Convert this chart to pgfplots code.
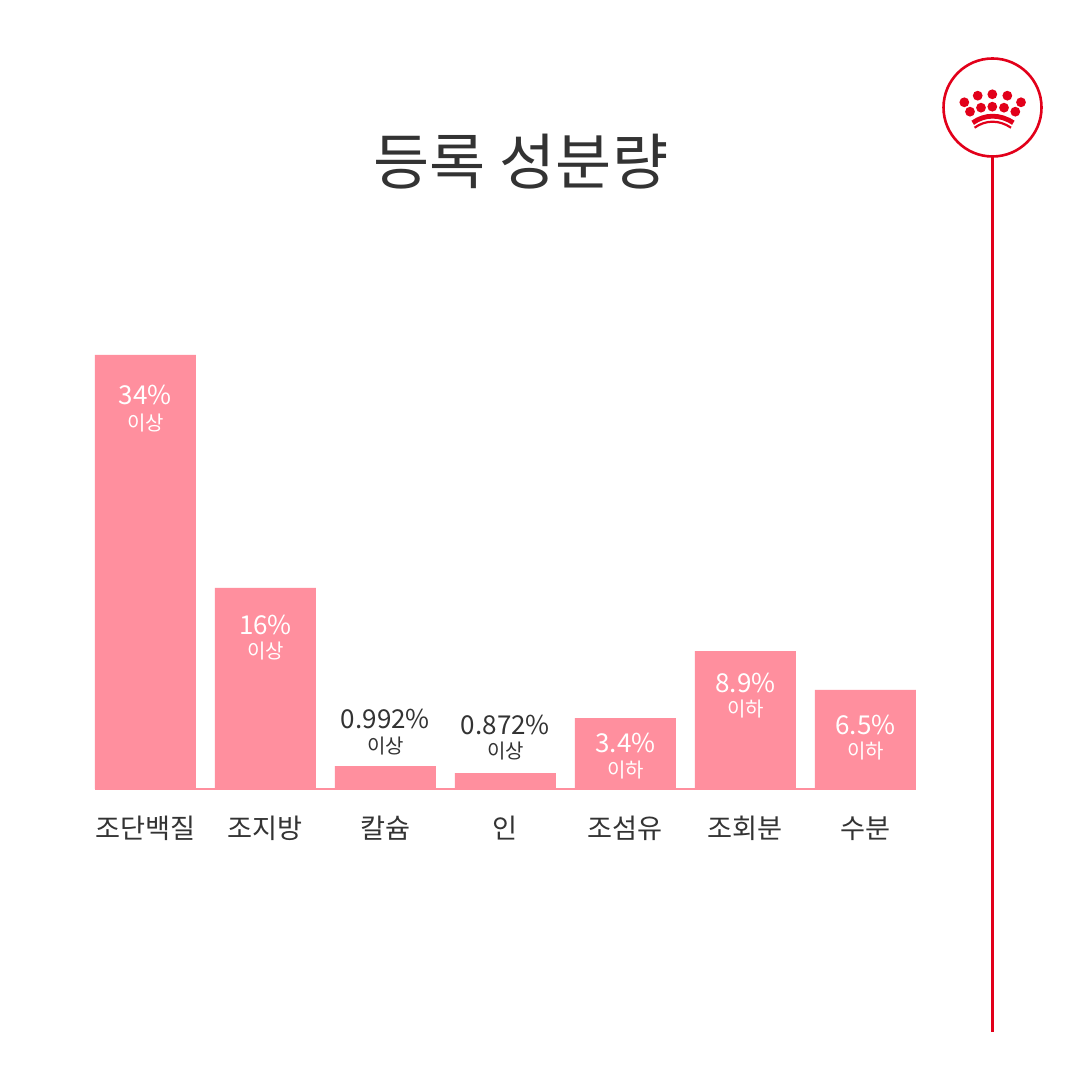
\documentclass[border=0pt]{standalone}
\usepackage{pgfplots}
\pgfplotsset{compat=1.18}
\usepackage{fontspec}
\setmainfont{Noto Sans CJK KR}
\definecolor{barpink}{RGB}{255,143,158}
\definecolor{rcred}{RGB}{226,0,26}
\definecolor{txt}{RGB}{51,51,51}
\begin{document}
\begin{tikzpicture}[x=0.5pt,y=0.5pt]
\fill[white] (0,0) rectangle (1080,1080);
% title
\node[txt, font=\fontsize{30.5}{32}\selectfont, inner sep=0pt] at (521,918.5) {등록 성분량};
% red line and logo
\draw[rcred, line width=1.5pt] (992.5,923) -- (992.5,48);
\fill[white] (992.5,972.5) circle (49);
\draw[rcred, line width=1.3pt] (992.5,972.5) circle (49);
\foreach \px/\py in {977.7/984.3, 992.3/985.7, 1007.3/984.3, 964.3/977.7, 1021/977.7, 970/968.3, 981/972.3, 992.3/973.3, 1004/972.3, 1015.3/968.3}
  \fill[rcred] (\px,\py) circle (4.9);
\draw[rcred, line width=2.4pt] (972.7,957.2) .. controls (985,966) and (1000,966) .. (1013.3,957.2);
\draw[rcred, line width=1.1pt] (974.5,952.3) .. controls (986,960.3) and (999,960.3) .. (1011,952.3);
\begin{axis}[
  at={(47.5pt,145.5pt)}, anchor=south west,
  scale only axis, width=410.4pt, height=255.3pt,
  xmin=-0.42, xmax=6.42, ymin=0, ymax=40,
  axis x line=bottom, axis y line=none,
  x axis line style={barpink, line width=1pt, -},
  xtick={0,1,2,3,4,5,6},
  xticklabels={조단백질,조지방,칼슘,인,조섬유,조회분,수분},
  major tick length=0pt,
  xticklabel style={txt, font=\fontsize{13.6}{15}\selectfont, anchor=center, yshift=-19.75pt},
  ybar, bar width=50.5pt, bar shift=0pt,
  clip=false,
]
\addplot[fill=barpink, draw=none] coordinates {(0,34) (1,15.75) (2,1.80) (3,1.25) (4,5.56) (5,10.81) (6,7.76)};
\tikzset{big/.style={font=\fontsize{13}{15}\selectfont, inner sep=0pt}, small/.style={font=\fontsize{10}{12}\selectfont, inner sep=0pt}}
\node[white, big] at (axis cs:0,30.86) {34\%};
\node[white, small] at (axis cs:0,28.67) {이상};
\node[white, big] at (axis cs:1,12.85) {16\%};
\node[white, small] at (axis cs:1,10.81) {이상};
\node[txt, big] at (axis cs:2,5.52) {0.992\%};
\node[txt, small] at (axis cs:2,3.37) {이상};
\node[txt, big] at (axis cs:3,5.01) {0.872\%};
\node[txt, small] at (axis cs:3,2.98) {이상};
\node[white, big] at (axis cs:4,3.60) {3.4\%};
\node[white, small] at (axis cs:4,1.49) {이하};
\node[white, big] at (axis cs:5,8.30) {8.9\%};
\node[white, small] at (axis cs:5,6.27) {이하};
\node[white, big] at (axis cs:6,5.01) {6.5\%};
\node[white, small] at (axis cs:6,2.98) {이하};
\end{axis}
\end{tikzpicture}
\end{document}
